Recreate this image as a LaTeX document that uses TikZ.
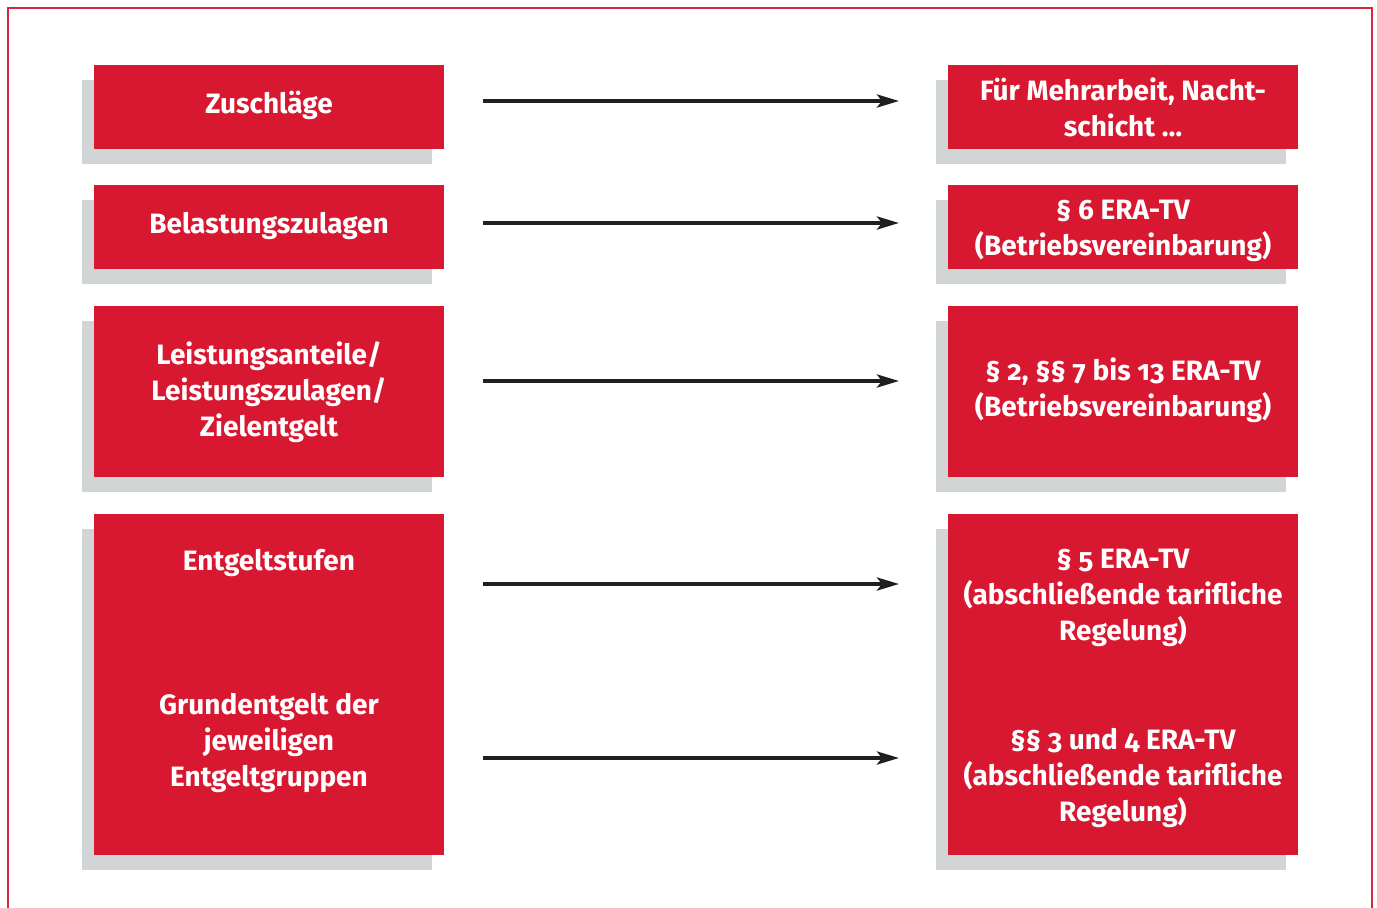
\documentclass[tikz,border=0pt]{standalone}
\usepackage{fontspec}
\setmainfont{Fira Sans}[Numbers=OldStyle]
\usetikzlibrary{arrows.meta}
\definecolor{boxred}{HTML}{D81830}
\definecolor{shadowgray}{HTML}{D1D5D6}
\definecolor{framered}{HTML}{D8283F}
\definecolor{arrowdark}{HTML}{1E201E}
\tikzset{
  redbox/.style={fill=boxred, draw=none},
  shadowbox/.style={fill=shadowgray, draw=none},
  lbl/.style={text=white, font=\fontsize{28}{36}\selectfont\bfseries, align=center, inner sep=0pt},
  arr/.style={draw=arrowdark, line width=3.8pt, -{Stealth[length=22pt,width=13pt,inset=5pt]}},
}
\newcommand{\mybox}[5]{% name, x1, y1, x2, y2
  \fill[shadowbox] (#2-12,#3+15) rectangle (#4-12,#5+15);
  \fill[redbox] (#2,#3) rectangle (#4,#5);
  \coordinate (#1) at ({(#2+#4)/2},{(#3+#5)/2});
}
\begin{document}
\begin{tikzpicture}[x=1pt,y=-1pt]
\useasboundingbox (0,0) rectangle (1377,908);
\fill[white] (0,0) rectangle (1377,908);
\draw[framered, line width=1.8pt] (8,912) -- (8,8) -- (1372,8) -- (1372,912);
% boxes
\mybox{L1}{94}{65}{444}{149}
\mybox{R1}{948}{65}{1298}{149}
\mybox{L2}{94}{185}{444}{269}
\mybox{R2}{948}{185}{1298}{269}
\mybox{L3}{94}{306}{444}{477}
\mybox{R3}{948}{306}{1298}{477}
\mybox{L4}{94}{514}{444}{855}
\mybox{R4}{948}{514}{1298}{855}
% texts
\node[lbl] (t1) at (269,105) {Zuschläge};
\node[lbl] (u1) at (1123,107) {Für Mehrarbeit, Nacht-\\schicht …};
\node[lbl] (t2) at (269,226) {Belastungszulagen};
\node[lbl] (u2) at (1123,231) {§ 6 ERA-TV\\(Betriebsvereinbarung)};
\node[lbl] (t3) at (269,392) {Leistungsanteile/\\Leistungszulagen/\\Zielentgelt};
\node[lbl] (u3) at (1123,390) {§ 2, §§ 7 bis 13 ERA-TV\\(Betriebsvereinbarung)};
\node[lbl] (t4) at (269,563) {Entgeltstufen};
\node[lbl] (t5) at (269,743) {Grundentgelt der\\jeweiligen\\Entgeltgruppen};
\node[lbl] (u4) at (1123,598) {§ 5 ERA-TV\\(abschließende tarifliche\\Regelung)};
\node[lbl] (u5) at (1123,778) {§§ 3 und 4 ERA-TV\\(abschließende tarifliche\\Regelung)};
% arrow endpoints
\coordinate (a1s) at (483,101); \coordinate (a1e) at (899,101);
\coordinate (a2s) at (483,223); \coordinate (a2e) at (899,223);
\coordinate (a3s) at (483,381); \coordinate (a3e) at (899,381);
\coordinate (a4s) at (483,584); \coordinate (a4e) at (899,584);
\coordinate (a5s) at (483,758); \coordinate (a5e) at (899,758);
\draw[arr] (a1s) -- (a1e);
\draw[arr] (a2s) -- (a2e);
\draw[arr] (a3s) -- (a3e);
\draw[arr] (a4s) -- (a4e);
\draw[arr] (a5s) -- (a5e);
\end{tikzpicture}
\end{document}
